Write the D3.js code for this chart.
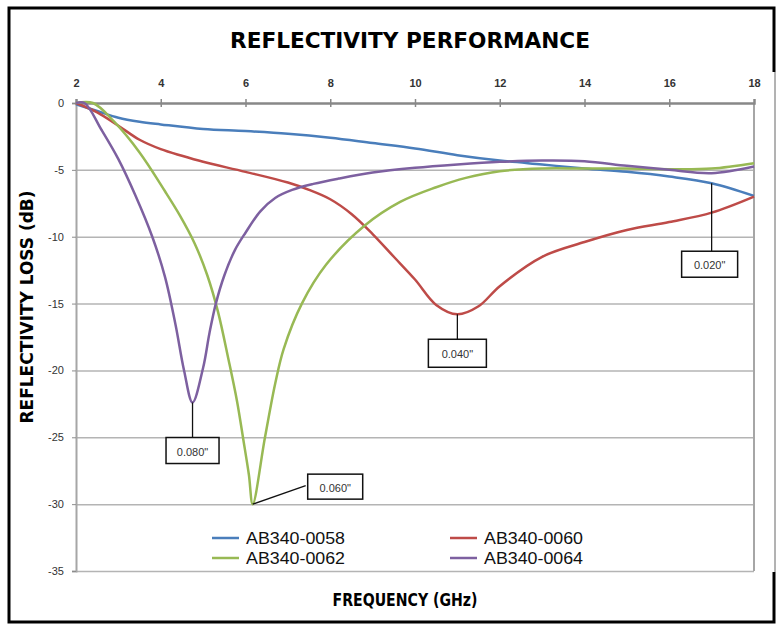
<!DOCTYPE html>
<html lang="en">
  <head>
    <meta charset="UTF-8" />
    <title>Reflectivity Performance</title>
    <script src="https://cdnjs.cloudflare.com/ajax/libs/d3/7.9.0/d3.min.js"></script>
    <style>
      body { margin: 0; background: #fff; }
    </style>
  </head>
  <body>
    <div id="wrapper"></div>
    <script>
      // tick labels
      const xTicks = [2, 4, 6, 8, 10, 12, 14, 16, 18];
      const yTicks = [0, -5, -10, -15, -20, -25, -30, -35];

      // series names
      const seriesNames = ["AB340-0058", "AB340-0060", "AB340-0062", "AB340-0064"];

      // values (GHz, dB)
      const freq0058 = [2, 2.5, 3, 3.5, 4, 5, 6, 7, 8, 9, 10, 11, 12, 13, 14, 15, 16, 17, 18];
      const loss0058 = [-0.1, -0.6, -1.1, -1.4, -1.6, -1.95, -2.1, -2.3, -2.6, -3.0, -3.4, -3.9, -4.3, -4.6, -4.9, -5.15, -5.5, -6.0, -6.95];

      const freq0060 = [2, 2.5, 3, 3.5, 4, 4.5, 5, 6, 7, 7.5, 8, 8.5, 9, 9.5, 10, 10.5, 11, 11.5, 12, 13, 14, 15, 16, 17, 18];
      const loss0060 = [0, -0.7, -1.7, -2.75, -3.45, -3.95, -4.4, -5.15, -5.95, -6.5, -7.2, -8.3, -9.8, -11.5, -13.2, -15.1, -15.8, -15.2, -13.7, -11.5, -10.4, -9.5, -8.9, -8.2, -7.0];

      const freq0062 = [2, 2.4, 2.9, 3.5, 4.1, 4.45, 4.8, 5.1, 5.35, 5.6, 5.8, 5.95, 6.08, 6.17, 6.46, 6.7, 6.9, 7.33, 7.9, 8.8, 9.65, 10.5, 11.2, 12, 13, 14, 15, 16, 17, 18];
      const loss0062 = [0, 0, -1.4, -3.7, -6.6, -8.4, -10.5, -12.9, -15.6, -19.2, -22.3, -25.2, -27.8, -30.0, -25.0, -21.0, -18.4, -15.0, -12.1, -9.2, -7.4, -6.3, -5.6, -5.1, -4.9, -4.9, -4.9, -4.95, -4.9, -4.5];

      const freq0064 = [2, 2.2, 2.6, 3.0, 3.4, 3.8, 4.1, 4.35, 4.55, 4.75, 5.0, 5.15, 5.3, 5.5, 5.75, 6.0, 6.35, 6.7, 7.1, 7.6, 8.2, 9, 10, 11, 12, 13, 14, 15, 16, 17, 18];
      const loss0064 = [0, 0, -2.0, -4.2, -6.9, -10.0, -13.0, -16.6, -20.0, -22.4, -19.8, -17.2, -15.0, -12.9, -11.0, -9.7, -8.1, -7.1, -6.5, -6.05, -5.65, -5.2, -4.85, -4.6, -4.4, -4.3, -4.35, -4.7, -5.0, -5.25, -4.75];

      // thickness callouts: series index, frequency, label
      const calloutSeries = [0, 1, 2, 3];
      const calloutFreq = [17, 11, 6.17, 4.75];
      const calloutLabels = ['0.020"', '0.040"', '0.060"', '0.080"'];

      const colors = ["#4a7ebb", "#be4b48", "#98b954", "#7d60a0"];

      const dimensions = {
        width: 778,
        height: 624,
        margin: { top: 103, right: 24, bottom: 53, left: 76 },
      };
      dimensions.boundedWidth = dimensions.width - dimensions.margin.left - dimensions.margin.right;
      dimensions.boundedHeight = dimensions.height - dimensions.margin.top - dimensions.margin.bottom;

      const series = [
        { freq: freq0058, loss: loss0058 },
        { freq: freq0060, loss: loss0060 },
        { freq: freq0062, loss: loss0062 },
        { freq: freq0064, loss: loss0064 },
      ].map((s, i) => ({
        name: seriesNames[i],
        color: colors[i],
        points: s.freq.map((f, j) => ({ f, v: s.loss[j] })),
      }));

      const svg = d3
        .select("#wrapper")
        .append("svg")
        .attr("width", dimensions.width)
        .attr("height", dimensions.height);

      // outer frame (right side is thin in the middle in the original scan)
      svg.append("path")
        .attr("d", "M774,72L774,8L9,8L9,622L774,622L774,572")
        .attr("fill", "none").attr("stroke", "#000").attr("stroke-width", 3);
      svg.append("line")
        .attr("x1", 775).attr("x2", 775).attr("y1", 72).attr("y2", 572)
        .attr("stroke", "#666").attr("stroke-width", 1);

      svg.append("text")
        .attr("x", 410).attr("y", 48)
        .attr("text-anchor", "middle")
        .attr("font-family", "DejaVu Sans")
        .attr("font-weight", "bold")
        .attr("font-size", 22)
        .attr("textLength", 360)
        .attr("lengthAdjust", "spacingAndGlyphs")
        .text("REFLECTIVITY PERFORMANCE");

      const bounds = svg.append("g")
        .attr("transform", `translate(${dimensions.margin.left},${dimensions.margin.top})`);

      const xScale = d3.scaleLinear().domain([2, 18]).range([0, dimensions.boundedWidth]);
      const yScale = d3.scaleLinear().domain([0, -35]).range([0, dimensions.boundedHeight]);

      // gridlines
      const grid = bounds.append("g")
        .call(d3.axisLeft(yScale).tickValues(yTicks.filter((d) => d !== 0)).tickSize(-dimensions.boundedWidth).tickFormat(""));
      grid.select(".domain").remove();
      grid.selectAll("line").attr("stroke", "#b4b4b4").attr("stroke-width", 1.5);

      // plot sides
      bounds.append("line")
        .attr("x1", xScale(18)).attr("x2", xScale(18))
        .attr("y1", 0).attr("y2", dimensions.boundedHeight)
        .attr("stroke", "#a6a6a6").attr("stroke-width", 2);

      const yAxis = bounds.append("g")
        .call(d3.axisLeft(yScale).tickValues(yTicks).tickSize(4).tickPadding(8).tickFormat((d) => String(d)));
      yAxis.select(".domain").attr("stroke", "#a6a6a6").attr("stroke-width", 2);
      yAxis.selectAll("line").attr("stroke", "#8c8c8c");
      yAxis.selectAll("text")
        .attr("font-family", "Liberation Sans, Arial, sans-serif")
        .attr("font-size", 11)
        .attr("fill", "#333");

      const xAxis = bounds.append("g")
        .call(d3.axisTop(xScale).tickValues(xTicks).tickSize(4).tickPadding(12).tickFormat((d) => String(d)));
      xAxis.select(".domain").attr("stroke", "#888").attr("stroke-width", 2.5);
      xAxis.selectAll(".tick line").attr("y1", 4).attr("y2", -4).attr("stroke", "#888").attr("stroke-width", 1.5);
      xAxis.selectAll("text")
        .attr("font-family", "Liberation Sans, Arial, sans-serif")
        .attr("font-weight", "bold")
        .attr("font-size", 11)
        .attr("fill", "#333");
      xAxis.selectAll(".tick").filter((d) => d === 2 || d === 18).select("line").remove();

      // series lines
      const lineGenerator = d3.line()
        .x((d) => xScale(d.f))
        .y((d) => yScale(d.v))
        .curve(d3.curveCatmullRom.alpha(0.5));

      bounds.selectAll(".series")
        .data(series)
        .join("path")
        .attr("class", "series")
        .attr("d", (d) => lineGenerator(d.points))
        .attr("fill", "none")
        .attr("stroke", (d) => d.color)
        .attr("stroke-width", 2.5);

      // callouts: box offsets relative to the anchored point (layout only)
      const calloutLayout = [
        { dx: -29, dy: 68, w: 56, h: 26, elbow: false },
        { dx: -27, dy: 25, w: 58, h: 28, elbow: false },
        { dx: 55, dy: -30, w: 55, h: 25, elbow: true },
        { dx: -27, dy: 35, w: 53, h: 26, elbow: false },
      ];

      const callouts = calloutLabels.map((label, i) => {
        const s = series[calloutSeries[i]].points;
        const f = calloutFreq[i];
        const bis = d3.bisector((d) => d.f).left;
        const j = Math.min(Math.max(bis(s, f), 1), s.length - 1);
        const a = s[j - 1], b = s[j];
        const v = a.v + (b.v - a.v) * (f - a.f) / (b.f - a.f);
        return { label, px: xScale(f), py: yScale(v), ...calloutLayout[i] };
      });

      const cg = bounds.selectAll(".callout").data(callouts).join("g").attr("class", "callout");
      cg.append("path")
        .attr("d", (d) => d.elbow
          ? `M${d.px},${d.py}L${d.px + d.dx - 2},${d.py + d.dy + d.h / 2 - 1}`
          : `M${d.px},${d.py}L${d.px},${d.py + d.dy}`)
        .attr("stroke", "#111").attr("stroke-width", 1.3).attr("fill", "none");
      cg.append("rect")
        .attr("x", (d) => (d.elbow ? d.px + d.dx : d.px + d.dx - d.w / 2 + 27))
        .attr("y", (d) => d.py + d.dy)
        .attr("width", (d) => d.w).attr("height", (d) => d.h)
        .attr("fill", "#fff").attr("stroke", "#111").attr("stroke-width", 1.5);
      cg.append("text")
        .attr("x", (d) => (d.elbow ? d.px + d.dx : d.px + d.dx - d.w / 2 + 27) + d.w / 2)
        .attr("y", (d) => d.py + d.dy + d.h / 2 + 5)
        .attr("text-anchor", "middle")
        .attr("font-family", "Liberation Sans, Arial, sans-serif")
        .attr("font-size", 11)
        .attr("fill", "#333")
        .text((d) => d.label);

      // legend
      const legendPos = [[212, 538], [450, 538], [212, 558], [450, 558]];
      const legend = svg.selectAll(".legend").data(series).join("g")
        .attr("class", "legend")
        .attr("transform", (d, i) => `translate(${legendPos[i][0]},${legendPos[i][1]})`);
      legend.append("line")
        .attr("x1", 0).attr("x2", 27)
        .attr("stroke", (d) => d.color).attr("stroke-width", 2.5);
      legend.append("text")
        .attr("x", 34).attr("y", 6)
        .attr("font-family", "Liberation Sans, Arial, sans-serif")
        .attr("font-size", 16)
        .attr("textLength", 99)
        .attr("lengthAdjust", "spacingAndGlyphs")
        .attr("fill", "#111")
        .text((d) => d.name);

      // axis titles
      svg.append("text")
        .attr("transform", "translate(33,307) rotate(-90)")
        .attr("text-anchor", "middle")
        .attr("font-family", "DejaVu Sans Condensed, DejaVu Sans")
        .attr("font-weight", "bold")
        .attr("font-size", 18)
        .attr("textLength", 233)
        .attr("lengthAdjust", "spacingAndGlyphs")
        .text("REFLECTIVITY LOSS (dB)");

      svg.append("text")
        .attr("x", 405).attr("y", 606)
        .attr("text-anchor", "middle")
        .attr("font-family", "DejaVu Sans Condensed, DejaVu Sans")
        .attr("font-weight", "bold")
        .attr("font-size", 18)
        .attr("textLength", 145)
        .attr("lengthAdjust", "spacingAndGlyphs")
        .text("FREQUENCY (GHz)");
    </script>
  </body>
</html>
